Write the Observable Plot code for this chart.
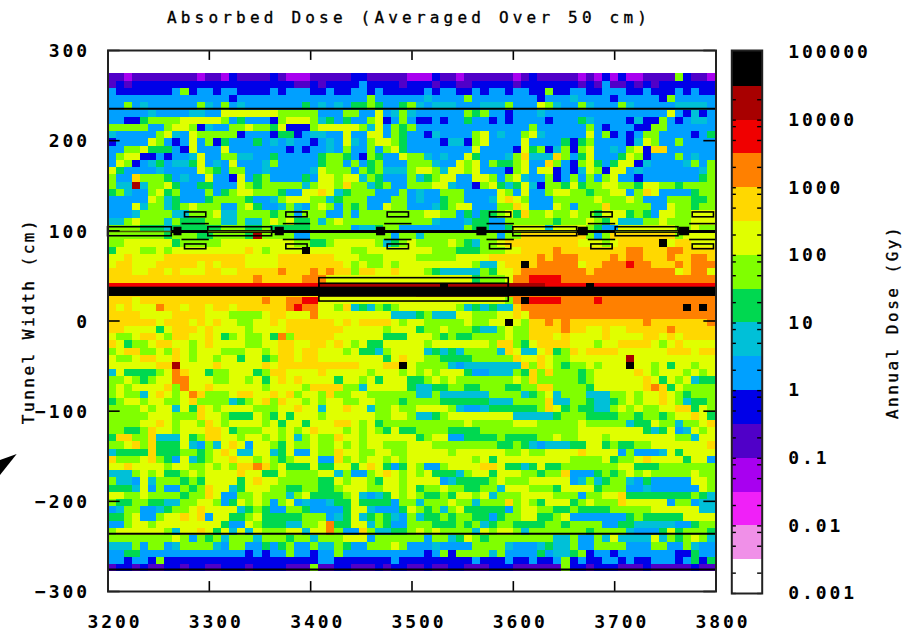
<!DOCTYPE html>
<html><head><meta charset="utf-8">
<script src="https://cdn.jsdelivr.net/npm/d3@7"></script>
<script src="https://cdn.jsdelivr.net/npm/@observablehq/plot@0.6"></script>
<style>
html,body{margin:0;padding:0;background:#fff}
#wrap{position:relative;width:919px;height:633px;overflow:hidden}
#wrap>svg,#wrap>div>svg{position:absolute;left:0;top:0}
svg text{font-family:"DejaVu Sans Mono",monospace}
g[aria-label$="tick label"] text{font-weight:bold;font-size:18px;letter-spacing:2.9px}
g[aria-label$="axis label"] text{font-size:16px;letter-spacing:2.5px;stroke:#000;stroke-width:.35px}
</style></head><body><div id="wrap"></div>
<script>
// colour bands of the scale, bottom (0) to top (15), hex digit = band index
const bandColors=["#ffffff","#f090e8","#f020f8","#a800f0","#5000c8","#0000e8","#00a0ff","#00c0d8","#00d850","#80ff00","#e0ff00","#ffd800","#ff8000","#f00000","#a80000","#000000"];
const xTicks=[3200,3300,3400,3500,3600,3700,3800];
const yTicks=[-300,-200,-100,0,100,200,300];
const doseTicks=[0.001,0.01,0.1,1,10,100,1000,10000,100000];
const minorDigits=[2,5,8];
const binSize=8, firstX=3200, topY=274;
// columns 0-37 (3200-3504 cm), one hex band per 8 cm cell, top row first
const rowsLeft=[
"44 3 44444444 3 44 3 5 4444 5 4 333 44444 55 44444 3",
"4 5 4 55555555555555555555 44 5 4 5555 6 5555 4 5",
"6 5555555 6 9 5 66 5 66 5555 6 5 666 55 6 55 66 5 6 5555",
"666666666666666 5 6666666666666666 9 66666",
"66 9 6 7 666666 9 7 6 9 6 7 6666666 8 6 7 6 7 6 8 8 9 8 6 6 8 9",
"66666 7 6666 77 66 aaaaaaa 99999 666 99 66 a 6 7 9 7",
"66 55 8 9999 aaaaa 9 6 8 666 5 9 aaa 9 7 8 6 8 66 9 a 5 6 9 6",
"99999 66 9 aa 9 5 7 66 99 a 99 8 a 555 9 aaaaa 9 7 a 6 9 8 9",
"7 66666 9 a 7 6 a 9 9 999 5 666 5 88 5 6 7 7 6 6 a 6 6 aa 6 9 8 6",
"5 6666 a 9 6 5 6 a 6 9 5 8 666 8 6 7 6 7 66 5 6 7 6 a 7 6 9 a a 9 8 6",
"66 99 a 888 6 5 a 666 a 6666666 5 6 5 66 7 6 9 66 9 6 9 a 8 6",
"6 9 aa 55 6 5 66 7 a 66 99 77 66 8 66666 8 99 8 6 5 9 8 66 a 9",
"6 a 9 5 6 7 8 6 77 8 a 6 7 6 a 666 7 9 66666 8 99 6 9 6 8 9 666 9",
"a 8 6666 7 6666 a 9 8 6 99 66 7 66666 7 a 9 9 9 6 9 8 9 777 9",
"9 66 b 999 8 6 7 66 a 66 5 a 6 8 9 6666 8 6 aa 9 aa 7 9 8 666 9",
"9 77 e 7 9 9 a 8 66 88 666 a 9 8 9 9 999 7 9 a a 9 b 9 9 7 8 9 66 9 9",
"8 9 7 66 9 a 8 9 666 9 6 8 9 a a 9 9 9 8 66 aa b a 7 8 999 666 9 6",
"66666 a 9 7 8 666 8 9999 8 66 7 9 aaa 9 9 7 8 999 666 9 9 6",
"666 a 7 9 9 7 8 9 a 999 66 9 a 8 66 7 9 7 6 9 a 9 6 9 8 9 66 a 9 9 6",
"666 7 9 9 9 9 7 7 9 9 9 a 7 7 9 9 9 9 8 9 9 6 9 9 9 6 6 9 6 9 9 9 9 9 9 9 9 9",
"77 9 a 9 9 9 7 9 8 8 8 9 9 7 7 9 7 7 9 a 9 a 8 8 9 7 9 a 9 9 9 9 9 9 9 9 9 9",
"9 9 9 9 8 8 8 7 8 8 8 8 8 8 9 9 9 8 8 9 8 8 8 8 8 9 9 9 9 9 6 7 7 8 9 9 6 6",
"9 9 9 9 9 9 9 8 9 9 9 8 8 9 9 9 9 8 e 9 9 9 9 6 6 9 9 9 9 9 9 9 9 9 9 6 9 9",
"99 aaaaaa 8 9 9 9 9 9 a a a a a a a a a 9 9 8 8 9 a a a a a 9 7 8 9 a a 9",
"8 a a a 9 9 a 9 a a a a a a a a a b a 9 a a a a f a a a a a 9 9 a a a a a a",
"a a b a a a a b b b b b b b b b b a a a a b b b b b b b a a a 9 9 9 a a a a",
"a b b a a a b b b b b a b a b b b a a a a b b b b b b b b a 9 a 9 9 a 9 a a",
"b b b a a b b a b a a a b b a a b b b b b c b b b c b c b b 9 b b a a b a a",
"bbbbbbbbbbbbbbbbbb c bbbbb ccc aaaaaaaaaaaa",
"dddddddddddddddddddddddddd eeeeeeeeeeee",
"bbbbbbbbbbbbbbbbbbbbbbbbbbbbbbbbbbbbbb",
"b b b a b b b b b b b b b b b b b b b c b b c c d d a a a a a a a a a a a a",
"b a b a a a c b b a b b a b b a b b b b b b c d c c a a 9 b 7 8 7 9 8 9 a a",
"b b b b a a a a b b b b a a a 9 9 9 9 a b b a a a c a a a a a a a a a 7 7 7",
"b b b b b b a b b b a b a b a a 9 9 a a b a b b b b b b a b a b b b b a 9 a",
"b b a a a a 8 a b b b a b a a a a 9 a a a a b b b b b b b a a a a a 9 a a a",
"a 9 9 a b b a 9 b b a a b a 8 9 a 9 9 a 8 c 9 b b b b b a a a a a a 8 8 8 a",
"b a 8 9 9 a b b a a 9 a b a a a a 9 9 a a b b a a b b a b a 9 a 8 8 a a a a",
"9 a b b 9 9 a 9 b a 9 a a a 9 9 9 a a 9 a b b a b b a a a 9 a 8 8 7 9 a a a",
"a 9 9 a b b a a b a 9 a a 9 a a 8 a a 8 9 b b a b b a a a a a a a a 8 a b a",
"a a a a a a b b e a a a a b a a a a a b a b b b b b b b b b b a a a b b f a",
"7 a 8 8 8 8 9 a c b a a 8 9 9 a a a 8 9 b b a a a a b a a a a a 9 a a a 9 a",
"9 9 a 9 8 9 a a c c a a a 9 9 a a 9 a 8 a b a b a a a a 8 a a 9 a 8 a a a 8",
"9 a 9 a a a a b 9 c a a b a a a a a a 9 a a a a 9 b b b b 9 9 7 a a a a a 8",
"9 a 9 9 7 a b a 9 a c b 9 9 9 a b b a a b a b 9 a a 9 b 9 9 a a 9 9 9 9 9 9",
"8 9 a a 9 a a 9 9 a b 9 9 9 9 7 8 9 a b 9 b a a 9 a 9 a a 9 9 a a 9 9 9 8 9",
"9 9 9 9 a 9 a a 7 a 8 b a 9 a a a a 9 9 9 a a b a a 7 a a b a a 7 9 9 a 9 9",
"9 9 9 9 9 a a a 9 9 9 b a a 9 8 8 8 a 9 8 a 8 a a a 9 a a a a a a 9 9 a a 9",
"9 9 9 9 a a b a 9 a a 9 b a 9 a a a a 9 a 8 a a 8 a a a b b a 9 a 8 9 9 9 9",
"9 9 8 8 9 b a a 9 a a a b b a 8 9 9 9 a a 9 a 9 a b a a a 9 a 9 a 9 8 a 8 8",
"8 b b 9 9 b 7 7 7 a 8 9 b b a a 9 a a 9 a 9 a 7 9 a 9 9 b a a 9 a a a a a a",
"9 9 a b 9 b 8 8 8 a 7 6 9 7 a b a 6 a a 9 8 a 9 9 a 9 9 a 9 a 9 a a 9 9 9 a",
"7 8 8 8 8 b 8 8 8 9 9 8 9 a b a 7 7 a a 7 8 a 6 6 a 9 9 b a a 9 9 a a 9 9 a",
"b 9 9 9 a b 9 8 6 a 7 8 9 a a b a a 9 a 9 8 9 a a a 6 6 b 9 a 9 a a 9 a 9 a",
"a a b a a a a 9 a a 9 9 a 9 a 9 b b c b 9 a 8 8 8 a 8 8 a a 8 a b a 8 6 8 a",
"7 7 7 9 a 9 a 8 8 9 a 9 a a a a b a a 8 8 a 9 9 9 9 a a 7 9 6 6 9 a b a 9 a",
"9 7 7 6 a 7 9 9 9 8 9 8 a a a a 8 a b a a 9 9 9 9 9 8 8 a 9 a a 9 8 a a 9 a",
"8 8 8 7 a 6 9 6 6 9 8 9 b a a 7 8 a a a 9 9 8 8 9 9 8 8 9 a a a 9 9 a a 9 a",
"a a 9 9 a 9 9 9 9 8 9 9 b a 6 6 9 9 a 9 9 9 7 9 a 8 8 8 8 9 a 7 6 7 8 a 9 a",
"9 8 8 9 9 8 8 7 7 9 9 a a 9 6 8 a 9 a 9 6 9 a 6 7 6 6 7 8 8 a 8 8 8 8 6 9 9",
"6 7 9 9 6 6 7 8 9 9 a b a a a a 7 8 9 8 6 6 9 9 8 6 6 6 6 8 a a 7 6 6 6 8 a",
"8 8 9 a 6 6 9 a a b a b 6 a a 8 8 9 a 8 8 8 8 8 9 9 9 6 7 8 a 7 8 9 8 7 6 9",
"6 6 9 a a 9 a a a a a a a a 8 6 6 a 9 8 8 8 7 7 9 9 a c 8 8 a a 7 9 8 6 6 9",
"9 a a a a a a 9 7 a a b a 8 a 7 a 7 a 9 9 9 a a 7 a a c 9 6 6 b 9 7 7 8 8 9",
"9 9 9 9 9 9 9 9 a 9 6 9 8 9 7 9 9 9 7 9 9 9 8 9 9 7 9 9 9 a a a 6 9 9 9 9 9",
"7 7 7 9 6 9 9 6 7 9 9 9 9 7 6 9 9 6 6 8 6 8 9 6 6 9 7 7 9 8 6 6 9 9 9 a 9 6",
"6 6 8 8 6 6 6 6 6 6 6 6 6 6 6 6 6 5 6 5 6 6 9 6 6 5 6 6 9 6 6 6 6 6 6 6 6 6",
"66566 5 9 5555555555555555555 66 5555555 6 55",
"4 5 5 4 5 4 4 5 5 4 5 5 4 4 5 5 5 4 5 5 5 5 4 4 4 9 4 4 5 5 4 4 4 5 4 5 5 4"
];
// columns 38-74 (3504-3800 cm), same rows
const rowsRight=[
"33 5 44 3 444444 3 4 5 44444 3 4 3 5 3 5 33 4444 9 5 44 3",
"55 4 55 44 55555 4 5555555 4 5 4 6 44 5 4 5 4 5555555",
"5 6 5 66 55 6 5 66 5 66 55 9 55 66 55 666 55 6 555 6 5 6 55",
"6 7 6666 9 66666666 5 666 7 6666 5 66666 5 9 66666",
"76 777 666 777 9 666 a 9 7 66 9 7 666 9 7 66666 7777 6",
"666666 9 8 9 66 5 666 7 666666666666666 a 6 5 7 5 6",
"55 6 5 66 8 66 5 6 5 6666 5 666 8 7 6666 5 7 55 9 6 5 6 77 6",
"66666666666666 9 666666 9 6 5 666 55 99 666666",
"6 5 7 6666 9 a 6 7 66 9 a 7 66666 a 6 9 5 6 5 6 99 6666 5 6 8",
"666 5 77 5 9 a 6666 a 6666 8 5 8 9 6666 5 7 a 9 66 9 6666",
"6666666 a 6666 5 a 8 9 5 7 9 5 9 a 66 7 6 9 a 5 bb 666666",
"9 7 6 7 66 a 8 666 7 9 b 777 b 9 6 8 a 666 8 a 9 5 666 9 6 7 66",
"99 7 66 a 9 a 6 9 88 9 a 66 b 9 6 5 9 a 8 6 8 aa 5 7 6666 7 9 6 9",
"aa 9 7 aa 9 a 666 5 9 a 6 aa 5 6 5 7 a 9 5 a a 6 7 6666666 7 9",
"7 8 9 a a 6 6 a a 9 6 9 a 7 6 6 9 5 6 9 6 9 6 9 a 6 6 5 6666666 8 9",
"9 9 a a 7 6 6 5 9 a 8 7 8 a 7 5 9 9 8 a 8 9 9 a a 9 9 8 a a 9 9 8 9 9 9 9",
"7 66 999 6666 a 9 6 a 6 6 9 a a 9 9 8 9 9 a a 6 9 b a 6 6 6 6 8 9 9 8 a",
"7 6 6 8 9 9 6 6 6 7 a b a 9 6 6 6 9 9 9 9 9 a 9 9 9 a 9 6 6 6 9 9 9 8 8 9",
"6 6 7 8 9 a a 6 6 6 9 9 b a 6 6 6 a 9 6 9 9 9 b 9 9 9 9 9 6 6 a 9 9 8 9 9",
"9 a a 9 9 6 8 6 8 8 9 a 8 b 9 9 a 9 9 a 9 9 8 a a a 8 9 8 6 a a 9 9 a a a",
"9 9 7 6 6 6 7 8 8 6 6 9 9 9 9 9 9 8 9 9 9 a 9 8 a 7 7 7 9 9 a 9 9 9 a a a",
"6 6 6 6 6 6 9 8 8 6 6 8 a a a a 7 a a a a 9 8 6 6 a a a a a a a 9 9 a 9 9",
"7 9 9 9 9 9 9 9 9 9 6 9 9 b b b b b b b b 9 6 9 b b b b b b b b 9 a a a a",
"9999 a 9 8 7 99 a bbbbbbbbb aaa 9 a bbbbb f a bb aaaaa",
"a a 9 9 9 8 8 8 9 9 9 a a b b b b c b b b b b b b b c c b b b c c b b b b",
"9 9 9 9 9 a a a a b b b b b b c b c c c b b b b c b c c b b b c b b c c b",
"a a a a a a a 9 7 7 a b b f b c c c c c a b b c c c d c c b b b c b c c c",
"a 9 8 7 7 7 7 7 9 8 a a b c c c c c c c c b c c c c c c c c c c a b c c a",
"a a a a a a a 8 9 9 9 a c c d d d d c c c c c c c c c c c c c c c c c c c",
"e e e f e e e e e e e e e e e e d d d d d f d d d d d d d d d d d d d d d",
"cccccccccccccccccccccccccccccccccccccccc",
"aaaaaaaaaaa 9 c f dddd cccc d ccccccccccccccc",
"a a a a a 9 7 8 7 8 7 7 b c c c c c c c c c c c c c c c c c c c c f c f c",
"8 9 7 7 7 a a 9 9 9 a a b a c c c c c c c c c c c c c c c c c c c c c c c",
"a9999 9a99aa f a 9 b b c b c bbbbbbbbb c bbbbbbb c",
"8 9 9 a 9 9 9 8 7 7 9 a 9 9 b b b b c b b a a b a a b b b b b c b b b b b",
"a a 9 8 9 8 8 9 9 9 9 a 9 9 b b b a b a a a a b a a a a b b a b a b b b b",
"a 9 a a a a a a a 9 b b 9 8 a b b b b a a a 9 a a b b b b a 9 a b a a a a",
"a 7 8 7 8 7 9 9 9 9 7 b a 7 7 a b 8 9 b a b b b b a a a a a a b b b a b b",
"a 9 9 8 8 8 8 9 9 9 9 9 b a a b a 9 9 a a a a a a a e a a a a a a a a a a",
"9 9 9 9 7 6 7 7 7 7 7 7 7 b 9 b a 9 8 9 9 a 9 a a a f a a 9 a 8 a a 9 a a",
"9 a 9 a a a 8 6 6 7 7 7 9 8 b 9 b 9 9 9 8 9 a a a a a b a 9 a a a 9 a 9 a",
"8 9 a 9 a 9 9 9 9 9 9 9 a 9 b 9 9 9 9 9 8 9 a a a a a a b a 8 a 9 a 7 8 8",
"7 7 8 8 9 9 8 8 9 9 9 8 8 9 9 b b 9 9 9 9 8 a a a a a a b c b 8 a 9 9 9 9",
"7 7 9 7 7 7 7 7 7 9 9 9 9 7 8 9 a 7 9 9 9 7 7 7 9 9 a 9 a a b a 9 8 9 9 9",
"9 9 9 8 8 8 8 8 8 7 7 7 9 9 9 9 b 7 7 9 9 8 7 7 8 9 a 9 a a b a 9 7 8 8 9",
"a a a a 9 7 6 6 7 8 8 8 8 8 8 9 b a 8 9 8 8 7 7 9 a 9 a 9 9 a a b b 8 a 9",
"7 7 8 9 a a a a a a a a 7 7 7 7 7 8 9 9 9 8 8 8 8 9 9 8 9 9 8 9 a a b a 8",
"9 9 9 9 9 9 a 9 9 9 9 9 a a a 9 9 9 9 9 a 9 9 9 9 9 7 8 8 a 9 9 7 9 9 a b",
"9 9 9 9 8 8 8 8 9 9 9 9 9 9 9 9 9 9 9 9 a a a a a a a a 8 7 8 a 6 7 a 9 a",
"8 9 a a 6 6 8 8 8 8 9 8 8 8 8 9 9 a 9 9 a a a 9 a a a a a a a a 9 9 7 a a",
"a a 9 9 9 9 9 9 9 9 8 8 9 8 7 6 7 7 7 8 8 a a 8 9 8 8 9 9 a a a a a a a b",
"a a a a 9 a a a a a a 9 9 a 9 9 a a a a b a a a a 6 9 6 6 6 7 a 8 a a a a",
"a a a a a a a 9 a 8 a a a a a a a a a 9 9 9 9 a 8 9 9 a b a a a a 8 a a 6",
"9 6 6 9 a a a a b b a 8 8 7 8 a 8 8 9 9 9 9 9 9 9 a a 8 8 8 9 9 9 9 9 9 9",
"9 a 8 8 8 7 9 a a 8 a a a 9 9 8 9 9 b 6 6 6 8 9 8 9 a 9 a 9 9 9 9 9 a 9 9",
"a a a 6 7 8 8 8 8 9 a 9 9 9 a a a a a 6 7 9 7 8 9 9 7 6 8 6 6 6 6 6 a a 9",
"8 9 9 a 9 9 8 8 9 9 7 a a a 9 9 9 8 a a a a 8 9 9 9 6 6 7 6 6 6 6 6 6 a 9",
"9 8 8 9 8 a a 9 a 7 9 9 9 a a a a 9 9 9 6 9 9 a a b 8 8 8 8 8 8 8 8 9 8 7",
"7 9 9 9 a 9 9 7 9 9 9 b 9 a 9 8 a a a 8 9 a 9 9 9 b a a a a a 6 9 9 6 7 7",
"9 8 9 7 9 a 8 8 8 8 8 6 9 a a 9 9 8 8 9 8 8 8 8 9 9 9 9 9 a a a a a a 7 7",
"7 8 8 9 8 9 9 8 8 6 8 9 9 a a 8 8 9 a 6 6 6 6 6 6 6 8 9 8 8 8 8 8 a a a a",
"9 9 8 8 8 9 8 9 7 8 9 9 8 8 8 8 9 9 8 9 9 9 9 6 6 8 8 7 7 7 7 7 6 6 8 9 9",
"a 9 a 9 9 9 9 7 a 9 a a 9 7 9 9 9 9 9 9 9 8 9 9 9 9 7 6 6 6 8 a 8 9 9 9 8",
"9 6 9 9 7 8 a 9 8 9 9 9 9 9 9 9 9 7 7 9 6 6 9 7 a 7 7 7 7 a 7 9 8 9 a 9 7",
"6 6 7 6 6 6 6 9 9 9 9 7 6 6 6 7 8 7 7 9 6 6 9 9 9 9 6 6 6 9 9 6 6 9 7 6 6",
"6 5 6 9 5 9 9 9 9 7 9 6 6 6 6 8 6 7 7 8 9 5 6 6 5 6 6 6 6 6 6 6 5 5 8 6 6",
"5 5 5 5 5 5 5 6 5 5 5 6 5 5 6 5 5 6 9 5 6 5 5 6 6 5 6 5 5 6 6 6 5 6 8 5 8",
"4 5 4 4 5 5 4 4 4 5 5 5 4 4 4 4 4 4 9 5 5 4 5 5 5 4 4 4 5 4 4 4 4 4 5 4 4"
];
// shielding and beam elements, cm
const horizontalLines=[235.3,-236,-275.6];
const beamY=99.3;
const dipoles=[[3200,3263],[3299,3362],[3600,3663],[3701,3763]];
const joints=[[3265,3273],[3365,3374],[3465,3474],[3564,3574],[3664,3674],[3764,3774]];
const quadStarts=[3276,3376,3476,3577,3677,3777];
const tunnelBand={y1:27.2,y2:37.5};
const longMagnet={x1:3408.6,x2:3595.5,outer:[21.6,47.5],inner:[27.2,41.3]};
const titleText="Absorbed Dose (Averaged Over 50 cm)";

const cells=[];
rowsLeft.forEach((s,r)=>{
  const a=s.replace(/ /g,"").padEnd(38,s.slice(-1)).slice(0,38);
  const b=rowsRight[r].replace(/ /g,"");
  const full=a+b.padEnd(37,b.slice(-1)).slice(0,37);
  [...full].forEach((ch,c)=>{
    const band=parseInt(ch,16);
    cells.push({x1:firstX+c*binSize,x2:firstX+(c+1)*binSize,y2:topY-r*binSize,y1:topY-(r+1)*binSize,dose:Math.pow(10,-3+(band+0.5)/2)});
  });
});
const thresholds=d3.range(1,16).map(i=>Math.pow(10,-3+i/2));
const outline={fill:"none",stroke:"#000",strokeWidth:1.6};
const main=Plot.plot({
  width:919,height:633,marginLeft:107.5,marginRight:203.5,marginTop:50,marginBottom:42,
  x:{domain:[3200,3800]},y:{domain:[-300,300]},
  color:{type:"threshold",domain:thresholds,range:bandColors},
  style:{background:"transparent",overflow:"visible",color:"#000"},
  marks:[
    Plot.rect(cells,{x1:"x1",x2:"x2",y1:"y1",y2:"y2",fill:"dose",shapeRendering:"crispEdges"}),
    Plot.rect([tunnelBand],{x1:3200,x2:3800,y1:"y1",y2:"y2",fill:"#000"}),
    Plot.ruleY(horizontalLines,{stroke:"#000",strokeWidth:2}),
    Plot.ruleY([beamY],{x1:3263,x2:3800,stroke:"#000",strokeWidth:3}),
    Plot.ruleY([beamY],{x1:3200,x2:3263,stroke:"#222",strokeWidth:1}),
    Plot.rect(dipoles,{x1:d=>d[0],x2:d=>d[1],y1:94,y2:104,...outline}),
    Plot.ruleY(dipoles,{x1:d=>d[0],x2:d=>d[1],y:beamY,stroke:"#4a5a00",strokeWidth:1.5}),
    Plot.rect(joints,{x1:d=>d[0],x2:d=>d[1],y1:94.5,y2:104,fill:"#000"}),
    Plot.rect(quadStarts,{x1:d=>d,x2:d=>d+21,y1:115,y2:120.4,...outline}),
    Plot.rect(quadStarts,{x1:d=>d,x2:d=>d+21,y1:79.6,y2:84.9,...outline}),
    Plot.ruleY(quadStarts,{x1:d=>d-3,x2:d=>d+24,y:108,stroke:"#000",strokeWidth:1.6}),
    Plot.ruleY(quadStarts,{x1:d=>d-3,x2:d=>d+24,y:90.4,stroke:"#000",strokeWidth:1.6}),
    Plot.rect([longMagnet],{x1:"x1",x2:"x2",y1:d=>d.outer[0],y2:d=>d.outer[1],...outline}),
    Plot.rect([longMagnet],{x1:"x1",x2:"x2",y1:d=>d.inner[0],y2:d=>d.inner[1],...outline}),
    Plot.ruleX(xTicks,{y1:-300,y2:-289,stroke:"#000",strokeWidth:1.6}),
    Plot.ruleX(xTicks,{y1:300,y2:289,stroke:"#000",strokeWidth:1.6}),
    Plot.ruleY(yTicks,{x1:3200,x2:3212,stroke:"#000",strokeWidth:1.6}),
    Plot.ruleY(yTicks,{x1:3800,x2:3788,stroke:"#000",strokeWidth:1.6}),
    Plot.frame({stroke:"#222",strokeWidth:2}),
    Plot.axisX({ticks:xTicks,tickSize:0,tickPadding:24,dx:7,label:null,tickFormat:d=>String(d)}),
    Plot.axisY({ticks:yTicks,tickSize:0,tickPadding:18,dy:1,label:"Tunnel Width (cm)",labelAnchor:"center",labelArrow:"none",labelOffset:85}),
    Plot.text([titleText],{frameAnchor:"top",dx:-3,dy:-39,fill:"#000",fontSize:16})
  ]
});
const barTop=107000; // the bar runs a little past its last labelled value
const bands=bandColors.map((c,i)=>({color:c,lo:Math.pow(10,-3+i/2),hi:i==15?barTop:Math.pow(10,-3+(i+1)/2)}));
const minor=doseTicks.slice(0,-1).flatMap(t=>minorDigits.map(m=>t*m));
const bar=Plot.plot({
  width:919,height:633,marginLeft:731.3,marginRight:157.3,marginTop:50,marginBottom:40,
  x:{domain:[0,1],axis:null},
  y:{type:"log",domain:[0.001,barTop]},
  style:{background:"transparent",overflow:"visible",color:"#000"},
  marks:[
    Plot.rect(bands,{x1:0,x2:1,y1:"lo",y2:"hi",fill:"color",shapeRendering:"crispEdges"}),
    Plot.ruleY(doseTicks.concat(minor),{x1:0,x2:0.15,stroke:"#000",strokeWidth:1.4}),
    Plot.ruleY(doseTicks.concat(minor),{x1:0.85,x2:1,stroke:"#000",strokeWidth:1.4}),
    Plot.frame({stroke:"#222",strokeWidth:2}),
    Plot.axisY({anchor:"right",ticks:doseTicks,tickSize:0,tickPadding:26,dy:0,tickFormat:d=>String(d),label:"Annual Dose (Gy)",labelAnchor:"center",labelArrow:"none",labelOffset:136})
  ]
});
const wrap=document.getElementById("wrap");
wrap.appendChild(main);wrap.appendChild(bar);
main.querySelectorAll("text").forEach(t=>{if(t.textContent===titleText){t.style.letterSpacing="4.2px";t.style.fontSize="16px";t.style.stroke="#000";t.style.strokeWidth="0.35px";}});
const ns="http://www.w3.org/2000/svg";
const arrow=document.createElementNS(ns,"svg");
arrow.setAttribute("width","20");arrow.setAttribute("height","30");
arrow.style.cssText="position:absolute;left:0;top:450px";
arrow.innerHTML='<polygon points="0,10 16.7,4 0,25" fill="#000"/>';
wrap.appendChild(arrow);
</script></body></html>
